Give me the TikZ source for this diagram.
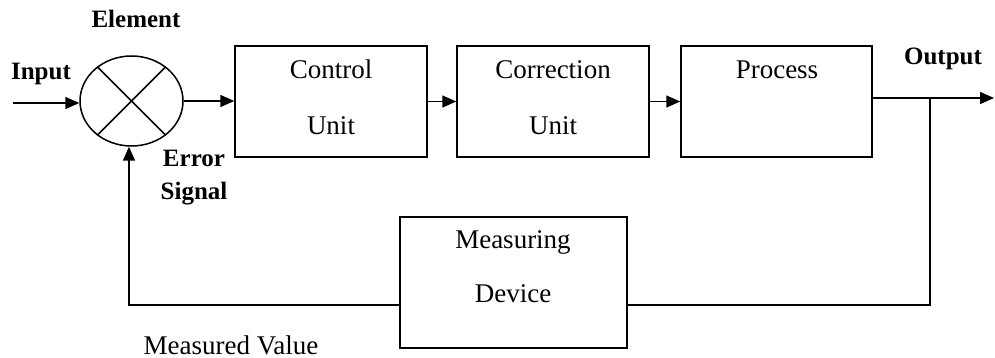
\documentclass[tikz,border=0pt]{standalone}
\usepackage{fontspec}
\setmainfont{Liberation Serif}
\usetikzlibrary{arrows.meta,shapes.geometric}
\begin{document}
\begin{tikzpicture}[x=1pt,y=-1pt,
  line/.style={line width=1.5pt},
  arr/.style={line, -{Triangle[length=14pt,width=12pt]}},
  blk/.style={draw, line width=1.5pt, rectangle, inner sep=0pt},
  txt/.style={font=\fontsize{27}{27}\selectfont, inner sep=0pt, anchor=base},
  btxt/.style={font=\fontsize{25}{25}\selectfont\bfseries, inner sep=0pt, anchor=base}]
\useasboundingbox (0,0) rectangle (995,358);

% summing element
\node[draw, ellipse, line, minimum width=103pt, minimum height=90pt, inner sep=0pt] (sum) at (131.5,101) {};
\draw[line] (sum.45) -- (sum.225);
\draw[line] (sum.135) -- (sum.315);

% blocks
\node[blk, minimum width=192pt, minimum height=111pt] (ctrl) at (331,101.5) {};
\node[blk, minimum width=192pt, minimum height=111pt] (corr) at (553,101.5) {};
\node[blk, minimum width=191pt, minimum height=111pt] (proc) at (776.5,101.5) {};
\node[blk, minimum width=227pt, minimum height=131pt] (meas) at (513.5,282.5) {};

% block texts
\node[txt] (tctrl1) at (331,79) {Control};
\node[txt] (tctrl2) at (331,135) {Unit};
\node[txt] (tcorr1) at (553,79) {Correction};
\node[txt] (tcorr2) at (553,135) {Unit};
\node[txt] (tproc) at (777,79) {Process};
\node[txt] (tmeas1) at (513,248) {Measuring};
\node[txt] (tmeas2) at (513,302) {Device};

% labels
\node[btxt] (lelem) at (136,28) {Element};
\node[btxt] (lin) at (41,80) {Input};
\node[btxt] (lout) at (943,65) {Output};
\node[btxt] (lerr) at (194,167) {Error};
\node[btxt] (lsig) at (194,200) {Signal};
\node[txt] (lmv) at (231,354) {Measured Value};

% connectors
\coordinate (in) at (13,103);
\draw[arr] (in) -- (in -| sum.west);
\draw[arr] (sum.east) -- (sum.east -| ctrl.west);
\draw[arr] (ctrl.east) -- (corr.west);
\draw[arr] (corr.east) -- (proc.west);
\coordinate (out) at (994,98);
\coordinate (junc) at (930,98);
\draw[arr] (proc.east |- out) -- (out);
\coordinate (fb) at (930,305);
\coordinate (corner) at (129,305);
\draw[line] (junc) -- (fb) -- (fb -| meas.east);
\draw[arr] (fb -| meas.west) -- (corner) -- (corner |- sum.south);
\end{tikzpicture}
\end{document}
